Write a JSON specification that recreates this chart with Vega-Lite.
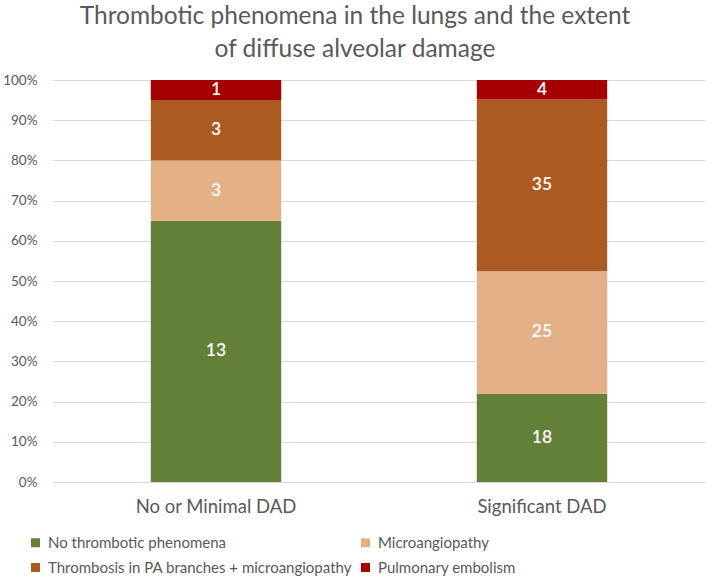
{
  "$schema": "https://vega.github.io/schema/vega-lite/v6.json",
  "width": 652,
  "height": 402,
  "autosize": "none",
  "padding": {"left": 53, "top": 80, "right": 4, "bottom": 97},
  "background": "white",
  "config": {
    "font": "Lato",
    "view": {"stroke": null}
  },
  "title": {
    "text": ["Thrombotic phenomena in the lungs and the extent", "of diffuse alveolar damage"],
    "fontSize": 24.5,
    "fontWeight": "normal",
    "color": "#595959",
    "lineHeight": 33,
    "anchor": "middle",
    "frame": "group",
    "dx": -24,
    "offset": 11
  },
  "data": {
    "values": [
      {"group": "No or Minimal DAD", "category": "No thrombotic phenomena", "seg": 1, "count": 13},
      {"group": "No or Minimal DAD", "category": "Microangiopathy", "seg": 2, "count": 3},
      {"group": "No or Minimal DAD", "category": "Thrombosis in PA branches + microangiopathy", "seg": 3, "count": 3},
      {"group": "No or Minimal DAD", "category": "Pulmonary embolism", "seg": 4, "count": 1},
      {"group": "Significant DAD", "category": "No thrombotic phenomena", "seg": 1, "count": 18},
      {"group": "Significant DAD", "category": "Microangiopathy", "seg": 2, "count": 25},
      {"group": "Significant DAD", "category": "Thrombosis in PA branches + microangiopathy", "seg": 3, "count": 35},
      {"group": "Significant DAD", "category": "Pulmonary embolism", "seg": 4, "count": 4}
    ]
  },
  "transform": [
    {"stack": "count", "groupby": ["group"], "sort": [{"field": "seg", "order": "ascending"}], "offset": "normalize", "as": ["y0", "y1"]}
  ],
  "encoding": {
    "x": {
      "field": "group",
      "type": "nominal",
      "title": null,
      "scale": {"paddingInner": 0.6, "paddingOuter": 0.3},
      "axis": {"labelAngle": 0, "labelFontSize": 18.5, "labelColor": "#595959", "labelPadding": 15, "ticks": false, "domain": false}
    }
  },
  "layer": [
    {
      "mark": {"type": "bar"},
      "encoding": {
        "y": {
          "field": "y0",
          "type": "quantitative",
          "title": null,
          "scale": {"domain": [0, 1]},
          "axis": {"format": "%", "values": [0, 0.1, 0.2, 0.3, 0.4, 0.5, 0.6, 0.7, 0.8, 0.9, 1], "labelFontSize": 13.5, "labelColor": "#595959", "labelPadding": 16, "ticks": false, "domain": false, "gridColor": "#d9d9d9", "gridWidth": 1}
        },
        "y2": {"field": "y1"},
        "color": {
          "field": "category",
          "type": "nominal",
          "scale": {
            "domain": ["No thrombotic phenomena", "Microangiopathy", "Thrombosis in PA branches + microangiopathy", "Pulmonary embolism"],
            "range": ["#638039", "#e3b087", "#ab5b21", "#a50000"]
          },
          "legend": {
            "title": null,
            "orient": "none",
            "legendX": -25,
            "legendY": 455,
            "direction": "horizontal",
            "columns": 2,
            "symbolType": "square",
            "symbolSize": 81,
            "symbolStrokeWidth": 0,
            "labelFontSize": 15,
            "labelColor": "#595959",
            "labelLimit": 400,
            "rowPadding": 9,
            "columnPadding": 6,
            "labelOffset": 5
          }
        }
      }
    },
    {
      "transform": [
        {"fold": ["y0", "y1"], "as": ["edge", "pos"]},
        {"aggregate": [{"op": "mean", "field": "pos", "as": "mid"}], "groupby": ["group", "category", "count"]}
      ],
      "mark": {"type": "text", "color": "white", "fontSize": 17.5, "fontWeight": 600, "baseline": "middle"},
      "encoding": {
        "y": {"field": "mid", "type": "quantitative", "scale": {"domain": [0, 1]}},
        "text": {"field": "count", "type": "quantitative"}
      }
    }
  ]
}
